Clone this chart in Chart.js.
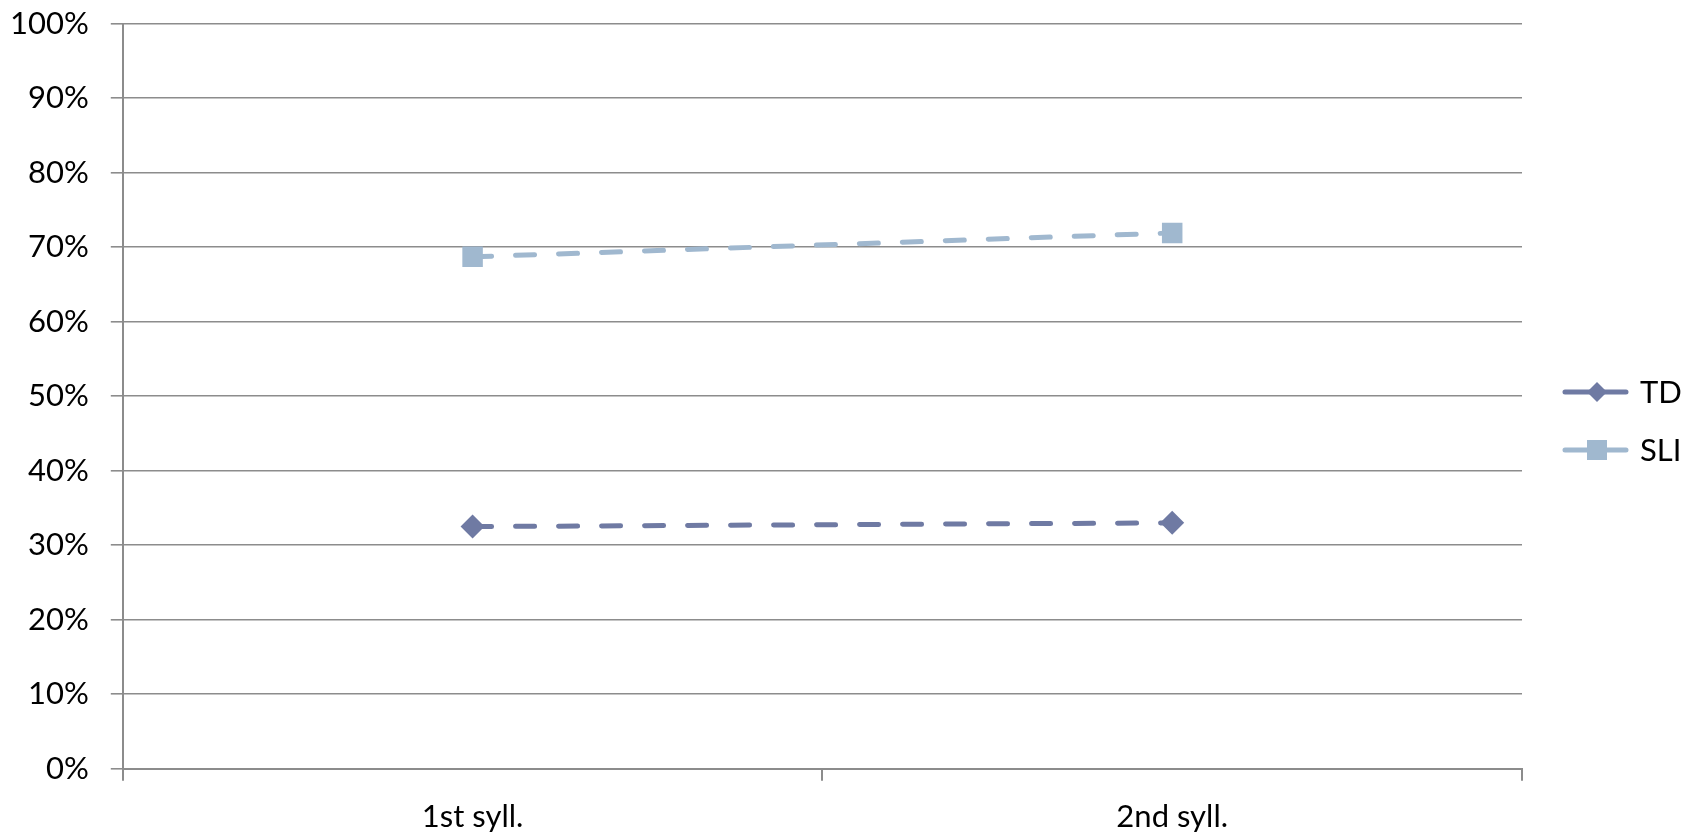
<!DOCTYPE html>
<html>
<head>
<meta charset="utf-8">
<script src="https://cdn.jsdelivr.net/npm/chart.js@4/dist/chart.umd.min.js"></script>
<style>
  html, body { margin: 0; padding: 0; background: #fff; overflow: hidden; }
  #wrap { width: 1703px; height: 836px; }
</style>
</head>
<body>
<div id="wrap"><canvas id="chart"></canvas></div>
<script>
// dados do gráfico
const categorias = ["1st syll.", "2nd syll."];
const serieTD = [32.5, 33.0];
const serieSLI = [68.7, 71.9];
const ticksY = [0, 10, 20, 30, 40, 50, 60, 70, 80, 90, 100];

const corTD = "#6F7AA3";
const corSLI = "#A0B8CF";
const corEixo = "#8C8C8C";
const fonte = "Lato, 'Open Sans', sans-serif";
const tamFonte = 31;

// legenda desenhada à mão (linha + marcador + texto), à direita do gráfico
const legendaManual = {
  id: "legendaManual",
  afterDraw(chart) {
    const ctx = chart.ctx;
    const x0 = 1562;
    const ys = [392, 450];
    ctx.save();
    chart.data.datasets.forEach((ds, i) => {
      const y = ys[i];
      const cx = x0 + 35;
      ctx.strokeStyle = ds.borderColor;
      ctx.fillStyle = ds.borderColor;
      ctx.lineWidth = 5;
      ctx.lineCap = "round";
      ctx.setLineDash([]);
      ctx.beginPath();
      ctx.moveTo(x0 + 3, y);
      ctx.lineTo(cx - 6, y);
      ctx.moveTo(cx + 6, y);
      ctx.lineTo(x0 + 64, y);
      ctx.stroke();
      if (ds.pointStyle === "rect") {
        ctx.fillRect(cx - 10, y - 10, 20, 20);
      } else {
        ctx.beginPath();
        ctx.moveTo(cx, y - 10);
        ctx.lineTo(cx + 10, y);
        ctx.lineTo(cx, y + 10);
        ctx.lineTo(cx - 10, y);
        ctx.closePath();
        ctx.fill();
      }
      ctx.fillStyle = "#000";
      ctx.font = tamFonte + "px " + fonte;
      ctx.textBaseline = "middle";
      ctx.textAlign = "left";
      ctx.fillText(ds.label, 1640, y + 1);
    });
    ctx.restore();
  },
};

new Chart(document.getElementById("chart"), {
  type: "line",
  data: {
    labels: categorias,
    datasets: [
      {
        label: "TD",
        data: serieTD,
        borderColor: corTD,
        backgroundColor: corTD,
        borderWidth: 5,
        borderDash: [19, 24],
        borderCapStyle: "round",
        pointStyle: "rectRot",
        pointRadius: 12,
        pointBorderWidth: 0,
      },
      {
        label: "SLI",
        data: serieSLI,
        borderColor: corSLI,
        backgroundColor: corSLI,
        borderWidth: 5,
        borderDash: [19, 24],
        borderCapStyle: "round",
        pointStyle: "rect",
        pointRadius: 14.5,
        pointBorderWidth: 0,
      },
    ],
  },
  plugins: [legendaManual],
  options: {
    responsive: true,
    maintainAspectRatio: false,
    animation: false,
    layout: { padding: { top: 0, right: 181, bottom: -18, left: -12 } },
    plugins: {
      tooltip: { enabled: false },
      legend: { display: false },
    },
    scales: {
      x: {
        offset: true,
        grid: {
          offset: true,
          drawOnChartArea: false,
          color: corEixo,
          lineWidth: 2,
          tickLength: 12,
        },
        border: { color: corEixo, width: 2 },
        ticks: {
          color: "#000",
          padding: 18,
          font: { family: fonte, size: tamFonte },
        },
      },
      y: {
        min: 0,
        max: 100,
        afterBuildTicks: (axis) => {
          axis.ticks = ticksY.map((v) => ({ value: v }));
        },
        grid: { color: corEixo, lineWidth: 1.6, tickLength: 12 },
        border: { color: corEixo, width: 2 },
        ticks: {
          color: "#000",
          padding: 22,
          font: { family: fonte, size: tamFonte, lineHeight: 0.1 },
          callback: (v) => v + "%",
        },
      },
    },
  },
});
</script>
</body>
</html>
